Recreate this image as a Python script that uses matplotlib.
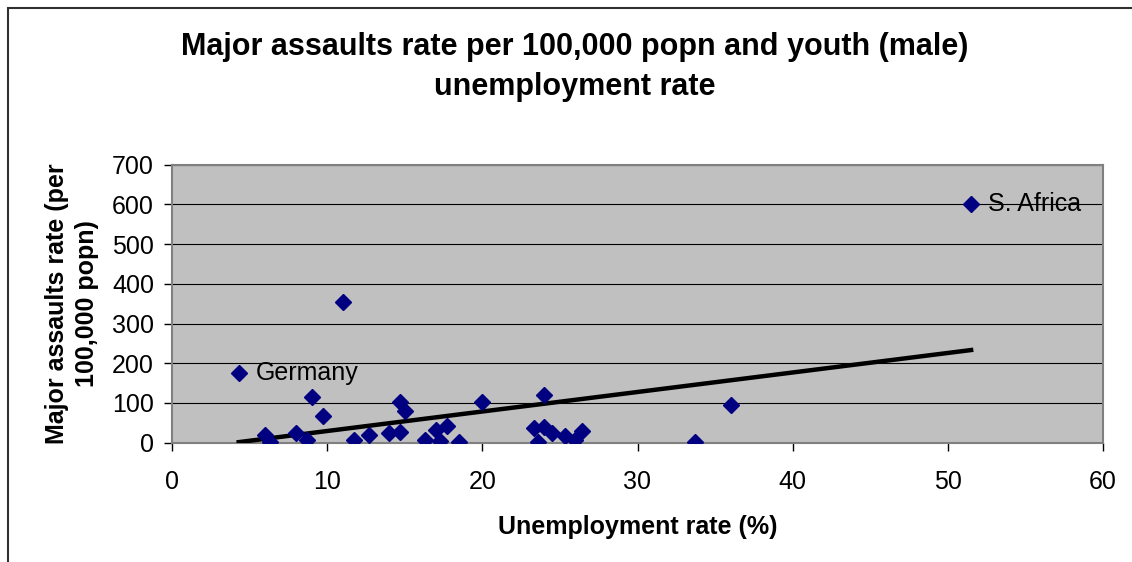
import matplotlib
matplotlib.use('Agg')
import matplotlib.pyplot as plt
import numpy as np
from matplotlib.patches import Rectangle

# youth (male) unemployment rate (%) and major assaults per 100,000 popn
unemployment = [4.3, 6.0, 6.3, 8.0, 8.7, 9.0, 9.7, 11.0, 11.7, 12.7,
                14.0, 14.7, 15.0, 14.7, 16.3, 17.0, 17.3, 17.7, 18.5, 20.0,
                23.3, 24.0, 24.0, 24.5, 23.6, 25.3, 26.0, 26.4, 33.7, 36.0,
                51.5]
assaults = [176, 19, 3, 24, 8, 114, 67, 355, 8, 19,
            25, 102, 81, 27, 8, 32, 5, 42, 1, 102,
            36, 120, 40, 25, 2, 18, 8, 30, 2, 95,
            600]
labelled = {0: 'Germany', 30: 'S. Africa'}

x_ticks = [0, 10, 20, 30, 40, 50, 60]
y_ticks = [0, 100, 200, 300, 400, 500, 600, 700]

plt.rcParams['font.family'] = ['Liberation Sans', 'DejaVu Sans']

fig = plt.figure(figsize=(11.32, 5.62), dpi=100)
ax = fig.add_axes([172 / 1132, 1 - 442.7 / 562, (1103 - 172) / 1132, (442.7 - 164.7) / 562])
ax.set_facecolor('#C0C0C0')

# chart area frame (only top and left edges fall inside the image)
fig.patches.append(Rectangle((8 / 1132, -0.1), 1.2, 1 - 8 / 562 + 0.1,
                             transform=fig.transFigure, fill=False,
                             edgecolor='#303030', linewidth=1.5))

x = np.array(unemployment)
y = np.array(assaults)

# linear trend line
k, b = np.polyfit(x, y, 1)
xs = np.array([x.min(), x.max()])
ax.plot(xs, k * xs + b, color='black', linewidth=3.2, zorder=3)

ax.plot(x, y, linestyle='none', marker='D', markersize=8.5,
        color='#000080', zorder=4)

for i, name in labelled.items():
    ax.annotate(name, xy=(x[i], y[i]), xytext=(12, 0), textcoords='offset points',
                va='center', ha='left', fontsize=18, color='black', zorder=5)

ax.set_xlim(0, 60)
ax.set_ylim(0, 700)
ax.set_xticks(x_ticks)
ax.set_yticks(y_ticks)
ax.tick_params(labelsize=18, length=6, width=1, direction='out', color='black')
ax.tick_params(axis='x', pad=14)
ax.tick_params(axis='y', pad=7)
ax.yaxis.grid(True, color='black', linewidth=0.8)
ax.set_axisbelow(True)
for s in ax.spines.values():
    s.set_color('#808080')
    s.set_linewidth(1.5)

ax.set_xlabel('Unemployment rate (%)', fontsize=18, fontweight='bold', labelpad=15)
ax.set_ylabel('Major assaults rate (per\n100,000 popn)', fontsize=18,
              fontweight='bold', labelpad=9, linespacing=1.35)

fig.text(0.508, 1 - 67 / 562,
         'Major assaults rate per 100,000 popn and youth (male)\nunemployment rate',
         ha='center', va='center', fontsize=22, fontweight='bold', linespacing=1.42)

fig.savefig('out.png', dpi=100)
